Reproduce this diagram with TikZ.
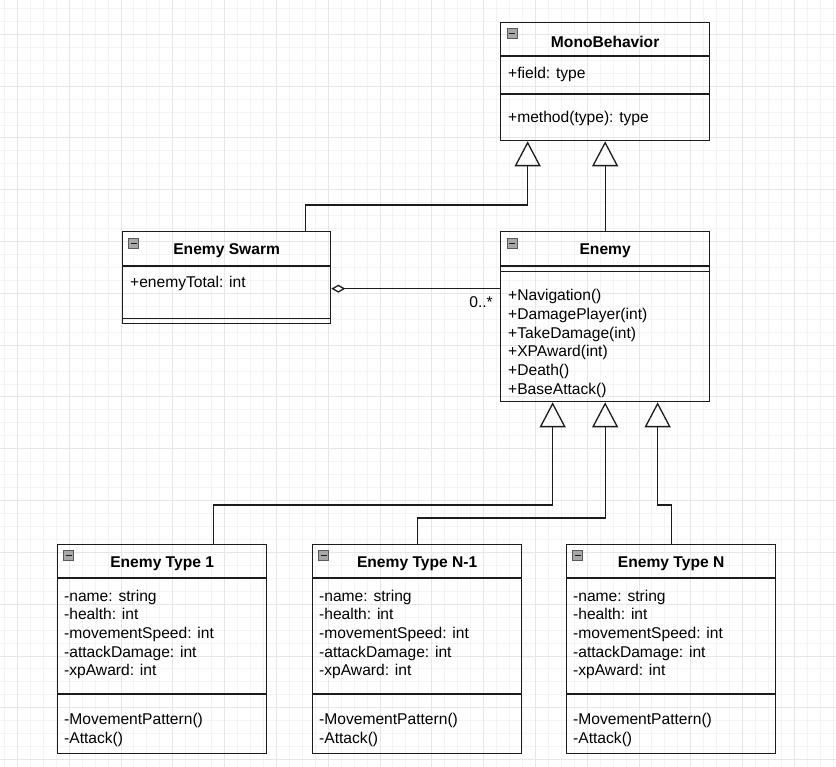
\documentclass[tikz,border=0pt]{standalone}
\usepackage{fontspec}
\setmainfont{Liberation Sans}
\usetikzlibrary{arrows.meta,positioning}
\definecolor{gridminor}{HTML}{F4F4F4}
\definecolor{gridmajor}{HTML}{E6E6E6}
\definecolor{umlline}{HTML}{1C1C1C}
\definecolor{togglefill}{HTML}{A8A8A8}

\tikzset{
  classbox/.style={draw=umlline,line width=1.3pt,anchor=north west,inner sep=0pt},
  sepline/.style={draw=umlline,line width=1.3pt},
  title/.style={font=\fontsize{15.6pt}{18.7pt}\selectfont\bfseries,inner sep=0pt},
  member/.style={anchor=west,align=left,inner sep=0pt},
  toggle/.style={draw=gray!70!black,fill=togglefill,line width=0.8pt,minimum size=10pt,inner sep=0pt,
    path picture={\draw[gray!20!black,line width=1.6pt] ([xshift=2pt]path picture bounding box.west) -- ([xshift=-2pt]path picture bounding box.east);}},
  ext/.style={draw=umlline,line width=1.3pt,-{Triangle[open,length=25pt,width=26pt]}},
  agg/.style={draw=umlline,line width=1.3pt,{Diamond[open,length=14pt,width=8pt]}-}
}

\begin{document}
\begin{tikzpicture}[x=1pt,y=-1pt,font=\fontsize{15.6pt}{18.7pt}\selectfont]
\useasboundingbox (0,0) rectangle (836,767);
\fill[white] (0,0) rectangle (836,767);
% grid
\foreach \gx in {4.35,17.3,...,836} \draw[gridminor,line width=0.8pt] (\gx,0) -- (\gx,767);
\foreach \gy in {8.4,21.35,...,767} \draw[gridminor,line width=0.8pt] (0,\gy) -- (836,\gy);
\foreach \gx in {17.3,69.1,...,836} \draw[gridmajor,line width=0.8pt] (\gx,0) -- (\gx,767);
\foreach \gy in {34.3,86.1,...,767} \draw[gridmajor,line width=0.8pt] (0,\gy) -- (836,\gy);

% MonoBehavior
\node (mono) [classbox,minimum width=209pt,minimum height=118pt] at (500,22) {};
\draw[sepline] (mono.north west) ++(0,34) -- ++(209,0);
\draw[sepline] (mono.north west) ++(0,72) -- ++(209,0);
\node (monoT) [title] at ([yshift=-20pt]mono.north) {MonoBehavior};
\node (monoI) [toggle] at ([shift={(12,11.7)}]mono.north west) {};
\node (monoF) [member] at (508,74) {+field: type};
\node (monoM) [member] at (508,118.5) {+method(type): type};

% Enemy Swarm
\node (swarm) [classbox,minimum width=208pt,minimum height=92pt] at (122,231) {};
\draw[sepline] (swarm.north west) ++(0,35) -- ++(208,0);
\draw[sepline] (swarm.north west) ++(0,87.5) -- ++(208,0);
\node (swarmT) [title] at ([yshift=-20pt]swarm.north) {Enemy Swarm};
\node (swarmI) [toggle] at ([shift={(11.5,12.5)}]swarm.north west) {};
\node (swarmF) [member] at (130,283.5) {+enemyTotal: int};

% Enemy
\node (enemy) [classbox,minimum width=209pt,minimum height=170pt] at (500,231) {};
\draw[sepline] (enemy.north west) ++(0,35) -- ++(209,0);
\draw[sepline] (enemy.north west) ++(0,40.5) -- ++(209,0);
\node (enemyT) [title] at ([yshift=-20pt]enemy.north) {Enemy};
\node (enemyI) [toggle] at ([shift={(12,12.5)}]enemy.north west) {};
\node (enemyM) [member] at (508,343.5) {+Navigation()\\+DamagePlayer(int)\\+TakeDamage(int)\\+XPAward(int)\\+Death()\\+BaseAttack()};

% Enemy Type 1
\node (type1) [classbox,minimum width=209pt,minimum height=209pt] at (57,544) {};
\draw[sepline] (type1.north west) ++(0,34) -- ++(209,0);
\draw[sepline] (type1.north west) ++(0,150) -- ++(209,0);
\node (type1T) [title] at ([yshift=-20pt]type1.north) {Enemy Type 1};
\node (type1I) [toggle] at ([shift={(11.5,11.5)}]type1.north west) {};
\node (type1F) [member] at (64,634.5) {-name: string\\-health: int\\-movementSpeed: int\\-attackDamage: int\\-xpAward: int};
\node (type1M) [member] at (64,730) {-MovementPattern()\\-Attack()};

% Enemy Type N-1
\node (typeN1) [classbox,minimum width=209pt,minimum height=209pt] at (312,544) {};
\draw[sepline] (typeN1.north west) ++(0,34) -- ++(209,0);
\draw[sepline] (typeN1.north west) ++(0,150) -- ++(209,0);
\node (typeN1T) [title] at ([yshift=-20pt]typeN1.north) {Enemy Type N-1};
\node (typeN1I) [toggle] at ([shift={(11.5,11.5)}]typeN1.north west) {};
\node (typeN1F) [member] at (319,634.5) {-name: string\\-health: int\\-movementSpeed: int\\-attackDamage: int\\-xpAward: int};
\node (typeN1M) [member] at (319,730) {-MovementPattern()\\-Attack()};

% Enemy Type N
\node (typeN) [classbox,minimum width=209pt,minimum height=209pt] at (566,544) {};
\draw[sepline] (typeN.north west) ++(0,34) -- ++(209,0);
\draw[sepline] (typeN.north west) ++(0,150) -- ++(209,0);
\node (typeNT) [title] at ([yshift=-20pt]typeN.north) {Enemy Type N};
\node (typeNI) [toggle] at ([shift={(11.5,11.5)}]typeN.north west) {};
\node (typeNF) [member] at (573,634.5) {-name: string\\-health: int\\-movementSpeed: int\\-attackDamage: int\\-xpAward: int};
\node (typeNM) [member] at (573,730) {-MovementPattern()\\-Attack()};

% connectors
\draw[ext] ([xshift=79pt]swarm.north) -- ++(0,-26) -| ([xshift=-77.5pt]mono.south);
\draw[ext] (enemy.north) -- (mono.south);
\draw[agg] ([yshift=-11pt]swarm.east) -- ([yshift=-11pt]swarm.east -| enemy.west);
\node (mult) [anchor=east,inner sep=0pt] at (493,302.5) {0..*};
\draw[ext] ([xshift=51.5pt]type1.north) -- ++(0,-39) -| ([xshift=-52.5pt]enemy.south);
\draw[ext] (typeN1.north) -- ++(0,-26) -| (enemy.south);
\draw[ext] (typeN.north) -- ++(0,-39) -| ([xshift=52.5pt]enemy.south);
\end{tikzpicture}
\end{document}
